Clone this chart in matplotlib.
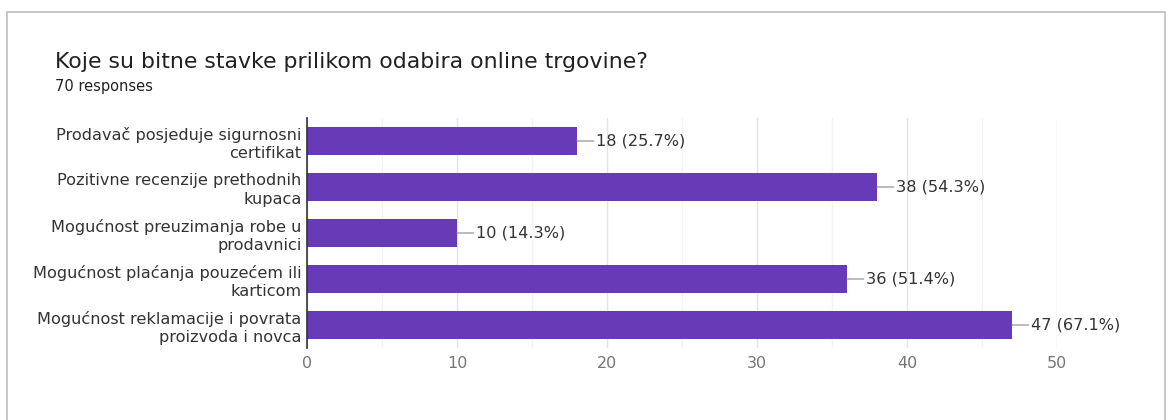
import matplotlib.pyplot as plt
import matplotlib.patches as mpatches
import numpy as np

# survey answers (top to bottom) and counts
categories = [
    "Prodavač posjeduje sigurnosni\ncertifikat",
    "Pozitivne recenzije prethodnih\nkupaca",
    "Mogućnost preuzimanja robe u\nprodavnici",
    "Mogućnost plaćanja pouzećem ili\nkarticom",
    "Mogućnost reklamacije i povrata\nproizvoda i novca",
]
counts = [18, 38, 10, 36, 47]
total = 70
xticks = [0, 10, 20, 30, 40, 50]

plt.rcParams['font.family'] = ['DejaVu Sans']

fig = plt.figure(figsize=(11.73, 4.2), dpi=100)
fig.patch.set_facecolor('white')

# card outline
card = mpatches.Rectangle((7 / 1173, -0.05), 1158 / 1173, 1 - 12 / 420 + 0.05,
                          transform=fig.transFigure, fill=False,
                          edgecolor='#bdbdbd', linewidth=1.2)
fig.add_artist(card)

fig.text(55 / 1173, 1 - 62 / 420, "Koje su bitne stavke prilikom odabira online trgovine?",
         fontsize=15.8, color='#212121', va='center')
fig.text(55 / 1173, 1 - 86 / 420, "70 responses", fontsize=10.5, color='#212121',
         va='center')

ax = fig.add_axes([307 / 1173, 1 - 348 / 420, 750 / 1173, 230 / 420])
y = np.arange(len(categories))
ax.barh(y, counts, height=0.63, color='#673ab7', zorder=3)

ax.set_xlim(0, 50)
ax.set_ylim(len(categories) - 0.5, -0.5)
ax.set_xticks(xticks)
ax.set_xticks(np.arange(5, 50, 10), minor=True)
ax.set_yticks(y)
ax.set_yticklabels(categories, fontsize=11.6, color='#333333', linespacing=1.28)
ax.tick_params(axis='x', labelsize=11.5, labelcolor='#757575', length=0, pad=6,
               which='both')
ax.tick_params(axis='y', length=0, pad=4)
ax.grid(axis='x', which='major', color='#e4e4e4', linewidth=1, zorder=0)
ax.grid(axis='x', which='minor', color='#f3f3f3', linewidth=1, zorder=0)
for side in ['top', 'right', 'bottom']:
    ax.spines[side].set_visible(False)
ax.spines['left'].set_color('#333333')
ax.spines['left'].set_linewidth(1.2)
ax.spines['left'].set_zorder(4)

# value labels with a short leader line
for yi, c in zip(y, counts):
    pct = c / total * 100
    ax.annotate(f"{c} ({pct:.1f}%)", xy=(c, yi), xytext=(14, 0),
                textcoords='offset points', va='center', ha='left',
                fontsize=11.6, color='#333333',
                arrowprops=dict(arrowstyle='-', color='#888888', lw=0.8,
                                shrinkA=0, shrinkB=0))

fig.savefig('out.png', dpi=100, facecolor='white')
